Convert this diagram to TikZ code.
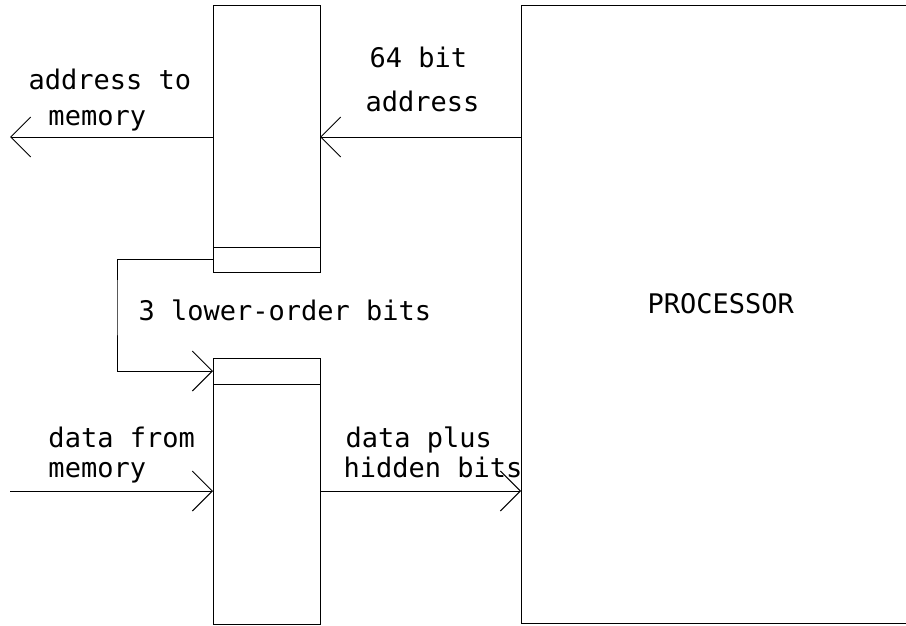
\documentclass[tikz,border=0pt]{standalone}
\usepackage{fontspec}
\setmonofont{DejaVu Sans Mono}
\usetikzlibrary{positioning,arrows.meta}

\begin{document}
\begin{tikzpicture}[x=1pt,y=-1pt,line width=1pt,
  reg/.style={draw, minimum width=107pt, inner sep=0pt, outer sep=0pt},
  lbl/.style={anchor=base west, inner sep=0pt, font=\ttfamily\fontsize{27}{27}\selectfont},
  wire/.style={-{Straight Barb[length=20pt,width=40pt,line width=1pt]}}]
\useasboundingbox (0,0) rectangle (906,626);
% registers
\node[reg, minimum height=266pt] (addr) at (266.5,139) {};
\node[reg, minimum height=25pt] (addrlo) at (266.5,259.5) {};
\node[reg, minimum height=266pt] (data) at (266.5,491) {};
\node[reg, minimum height=26pt] (datalo) at (266.5,371) {};
% processor
\node[draw, minimum width=386pt, minimum height=617pt, inner sep=0pt, outer sep=0pt] (cpu) at (714,314.5) {};
\node[lbl] (cpuname) at (647,313) {PROCESSOR};
\coordinate (memout) at (10,137);
\coordinate (memin) at (10,491);
\coordinate (bend) at (117,300);
% connectors
\draw[wire] (cpu.west |- 0,137) -- (addr.east |- 0,137);
\draw[wire] (addr.west |- 0,137) -- (memout);
\draw[wire] (addrlo.west) -| (bend) |- (datalo.west);
\draw[wire] (memin) -- (data.west);
\draw[wire] (data.east) -- (cpu.west |- data.east);
% labels
\node[lbl] (l1) at (28,90) {address to};
\node[lbl] (l2) at (48,125) {memory};
\node[lbl] (l3) at (369,68) {64 bit};
\node[lbl] (l4) at (365,112) {address};
\node[lbl] (l5) at (138,320) {3 lower-order bits};
\node[lbl] (l6) at (48,447) {data from};
\node[lbl] (l7) at (48,477) {memory};
\node[lbl] (l8) at (345,447) {data plus};
\node[lbl] (l9) at (343,477) {hidden bits};
\end{tikzpicture}
\end{document}
